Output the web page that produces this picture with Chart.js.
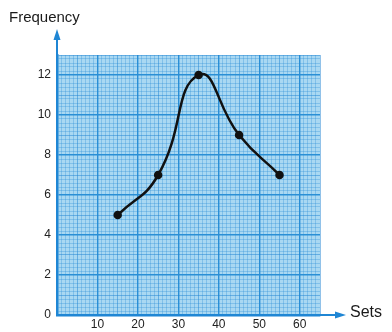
<!DOCTYPE html>
<html>
<head>
<meta charset="utf-8">
<script src="https://cdn.jsdelivr.net/npm/chart.js@4"></script>
<style>
  body { margin: 0; background: #fff; }
  #wrap { width: 392px; height: 332px; }
</style>
</head>
<body>
<div id="wrap"><canvas id="myChart"></canvas></div>
<script>
// data
let sets = [15, 25, 35, 45, 55];
let frequency = [5, 7, 12, 9, 7];
let xLabels = [10, 20, 30, 40, 50, 60];
let yLabels = [0, 2, 4, 6, 8, 10, 12];

let paper = '#a9d8f2';
let minorLine = 'rgba(40,140,215,0.45)';
let midLine = 'rgba(30,130,210,0.7)';
let majorLine = '#2a8fd6';
let axisBlue = '#1f86d4';

// graph paper background + arrows + axis names
let extras = {
    id: 'extras',
    beforeDraw(chart) {
        let a = chart.chartArea;
        let c = chart.ctx;
        c.save();
        c.fillStyle = paper;
        c.fillRect(a.left, a.top, a.right - a.left, a.bottom - a.top);
        c.restore();
    },
    afterDraw(chart) {
        let a = chart.chartArea;
        let c = chart.ctx;
        let x0 = chart.scales.x.getPixelForValue(0);
        let y0 = chart.scales.y.getPixelForValue(0);
        c.save();
        c.strokeStyle = axisBlue;
        c.fillStyle = axisBlue;
        c.lineWidth = 2;
        // y arrow
        c.beginPath();
        c.moveTo(x0, a.top);
        c.lineTo(x0, 36);
        c.stroke();
        c.beginPath();
        c.moveTo(x0, 29);
        c.lineTo(x0 - 3.5, 40);
        c.lineTo(x0 + 3.5, 40);
        c.closePath();
        c.fill();
        // x arrow
        c.beginPath();
        c.moveTo(a.right, y0);
        c.lineTo(338, y0);
        c.stroke();
        c.beginPath();
        c.moveTo(346, y0);
        c.lineTo(335, y0 - 3.5);
        c.lineTo(335, y0 + 3.5);
        c.closePath();
        c.fill();
        // names
        c.fillStyle = '#1a1a1a';
        c.font = '15px "Liberation Sans", Arial, sans-serif';
        c.textBaseline = 'middle';
        c.textAlign = 'left';
        c.fillText('Frequency', 9, 18);
        c.font = '16px "Liberation Sans", Arial, sans-serif';
        c.fillText('Sets', 350, y0 - 2);
        c.restore();
    }
};

function xGrid(v) {
    if (v % 10 === 0) return majorLine;
    if (v % 5 === 0) return midLine;
    return minorLine;
}
function yGrid(v) {
    let k = Math.round(v * 5);
    if (k % 10 === 0) return majorLine;
    if (k % 5 === 0) return midLine;
    return minorLine;
}

let ctx = document.getElementById('myChart').getContext('2d');
let myChart = new Chart(ctx, {
    type: 'line',
    data: {
        datasets: [{
            data: sets.map((s, i) => ({ x: s, y: frequency[i] })),
            borderColor: '#111',
            backgroundColor: '#111',
            borderWidth: 2.5,
            pointRadius: 3,
            pointHoverRadius: 3,
            tension: 0.5,
            fill: false
        }]
    },
    plugins: [extras],
    options: {
        responsive: true,
        maintainAspectRatio: false,
        animation: false,
        layout: { padding: { top: 55, right: 72, left: 0, bottom: 0 } },
        plugins: { legend: { display: false }, tooltip: { enabled: false } },
        scales: {
            x: {
                type: 'linear',
                min: 0,
                max: 65,
                afterFit(scale) { scale.height = 17; },
                border: { color: axisBlue, width: 2.5 },
                grid: {
                    drawTicks: false,
                    color: c => xGrid(c.tick.value),
                    lineWidth: c => (c.tick.value % 10 === 0 ? 1.4 : 0.7)
                },
                ticks: {
                    stepSize: 1,
                    autoSkip: false,
                    maxRotation: 0,
                    padding: 2,
                    color: '#222',
                    font: { family: '"Liberation Sans", Arial, sans-serif', size: 12 },
                    callback: v => (xLabels.includes(v) ? String(v) : '')
                }
            },
            y: {
                type: 'linear',
                min: 0,
                max: 13,
                afterFit(scale) { scale.width = 57; },
                border: { color: axisBlue, width: 2.5 },
                grid: {
                    drawTicks: false,
                    color: c => yGrid(c.tick.value),
                    lineWidth: c => (Math.round(c.tick.value * 5) % 10 === 0 ? 1.4 : 0.7)
                },
                ticks: {
                    stepSize: 0.2,
                    autoSkip: false,
                    padding: 6,
                    color: '#222',
                    font: { family: '"Liberation Sans", Arial, sans-serif', size: 12 },
                    callback: v => {
                        let r = Math.round(v * 5) / 5;
                        return yLabels.includes(r) ? String(r) : '';
                    }
                }
            }
        }
    }
});
</script>
</body>
</html>
